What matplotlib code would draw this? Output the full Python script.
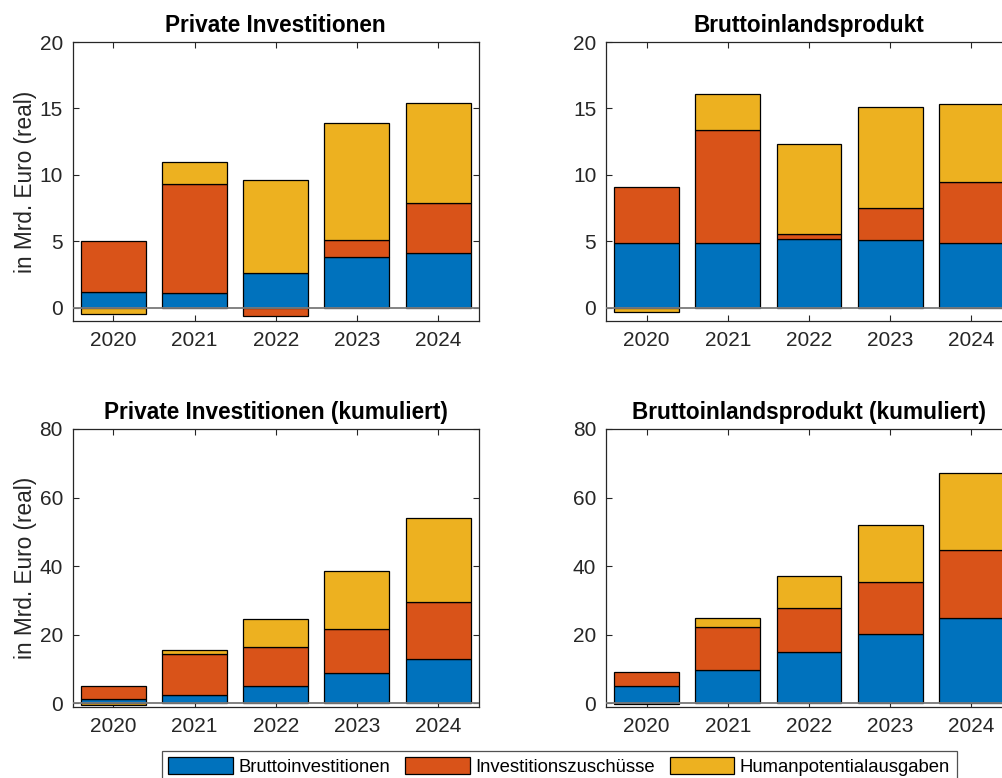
import numpy as np
import matplotlib
matplotlib.use("Agg")
import matplotlib.pyplot as plt

years = [2020, 2021, 2022, 2023, 2024]
series_names = ["Bruttoinvestitionen", "Investitionszuschüsse", "Humanpotentialausgaben"]
colors = ["#0072BD", "#D95319", "#EDB120"]

# Private Investitionen (annual)
pi_brutto = [1.2, 1.1, 2.6, 3.8, 4.1]
pi_zusch = [3.8, 8.2, -0.6, 1.3, 3.8]
pi_human = [-0.5, 1.7, 7.0, 8.8, 7.5]

# Bruttoinlandsprodukt (annual)
bip_brutto = [4.9, 4.9, 5.2, 5.13, 4.9]
bip_zusch = [4.2, 8.45, 0.33, 2.4, 4.6]
bip_human = [-0.33, 2.72, 6.82, 7.55, 5.86]

# Private Investitionen (kumuliert)
pik_brutto = [1.1, 2.3, 4.9, 8.7, 12.8]
pik_zusch = [3.9, 12.0, 11.4, 12.9, 16.7]
pik_human = [-0.5, 1.2, 8.2, 17.0, 24.5]

# Bruttoinlandsprodukt (kumuliert)
bipk_brutto = [4.9, 9.8, 15.0, 20.1, 24.9]
bipk_zusch = [4.2, 12.55, 12.8, 15.3, 19.8]
bipk_human = [-0.3, 2.45, 9.2, 16.7, 22.55]

titles = ["Private Investitionen", "Bruttoinlandsprodukt",
          "Private Investitionen (kumuliert)", "Bruttoinlandsprodukt (kumuliert)"]
ylabel = "in Mrd. Euro (real)"

panels = [
    (pi_brutto, pi_zusch, pi_human),
    (bip_brutto, bip_zusch, bip_human),
    (pik_brutto, pik_zusch, pik_human),
    (bipk_brutto, bipk_zusch, bipk_human),
]

plt.rcParams['font.family'] = ['Liberation Sans', 'DejaVu Sans']
W, H = 1003, 778
fig = plt.figure(figsize=(W / 100, H / 100), dpi=100)

def px_axes(l, t, r, b):
    return fig.add_axes([l / W, 1 - b / H, (r - l) / W, (b - t) / H])

rects = [
    (72.7, 42, 478.7, 321),
    (606, 42, 1012, 321),
    (72.7, 429, 478.7, 707.3),
    (606, 429, 1012, 707.3),
]
ylims = [(-1, 20), (-1, 20), (-1.2, 80), (-1.2, 80)]
yticks = [[0, 5, 10, 15, 20], [0, 5, 10, 15, 20], [0, 20, 40, 60, 80], [0, 20, 40, 60, 80]]
frame = "#262626"

handles = None
for i, (rect, data) in enumerate(zip(rects, panels)):
    ax = px_axes(*rect)
    x = np.array(years)
    pos = np.zeros(len(years))
    neg = np.zeros(len(years))
    hs = []
    for vals, c, name in zip(data, colors, series_names):
        v = np.array(vals, dtype=float)
        bottom = np.where(v >= 0, pos, neg)
        h = ax.bar(x, v, width=0.8, bottom=bottom, color=c, edgecolor="black",
                   linewidth=0.9, label=name, zorder=2)
        pos = np.where(v >= 0, pos + v, pos)
        neg = np.where(v < 0, neg + v, neg)
        hs.append(h)
    handles = hs
    ax.axhline(0, color="#7a7a7a", linewidth=1.3, zorder=3)
    ax.set_xlim(2019.5, 2024.5)
    ax.set_ylim(*ylims[i])
    ax.set_xticks(years)
    ax.set_xticklabels([str(y) for y in years])
    ax.set_yticks(yticks[i])
    ax.tick_params(direction="in", length=4, width=0.8, colors=frame,
                   labelsize=15, top=True, right=True, pad=7)
    for sp in ax.spines.values():
        sp.set_color(frame)
        sp.set_linewidth(0.9)
    ax.set_title(titles[i], fontsize=16.3, fontweight="bold", pad=7, color="black")
    if i % 2 == 0:
        ax.set_ylabel(ylabel, fontsize=16.3, color=frame, labelpad=2)

leg = fig.legend(handles, series_names, loc="upper left",
                 bbox_to_anchor=(162 / W, 1 - 751 / H), ncol=3, fontsize=13.3,
                 frameon=True, fancybox=False, edgecolor="#262626",
                 handlelength=3.5, handleheight=1.0, handletextpad=0.3,
                 columnspacing=0.8, borderpad=0.35, borderaxespad=0)
leg.get_frame().set_linewidth(0.9)

fig.savefig("out.png", dpi=100)
